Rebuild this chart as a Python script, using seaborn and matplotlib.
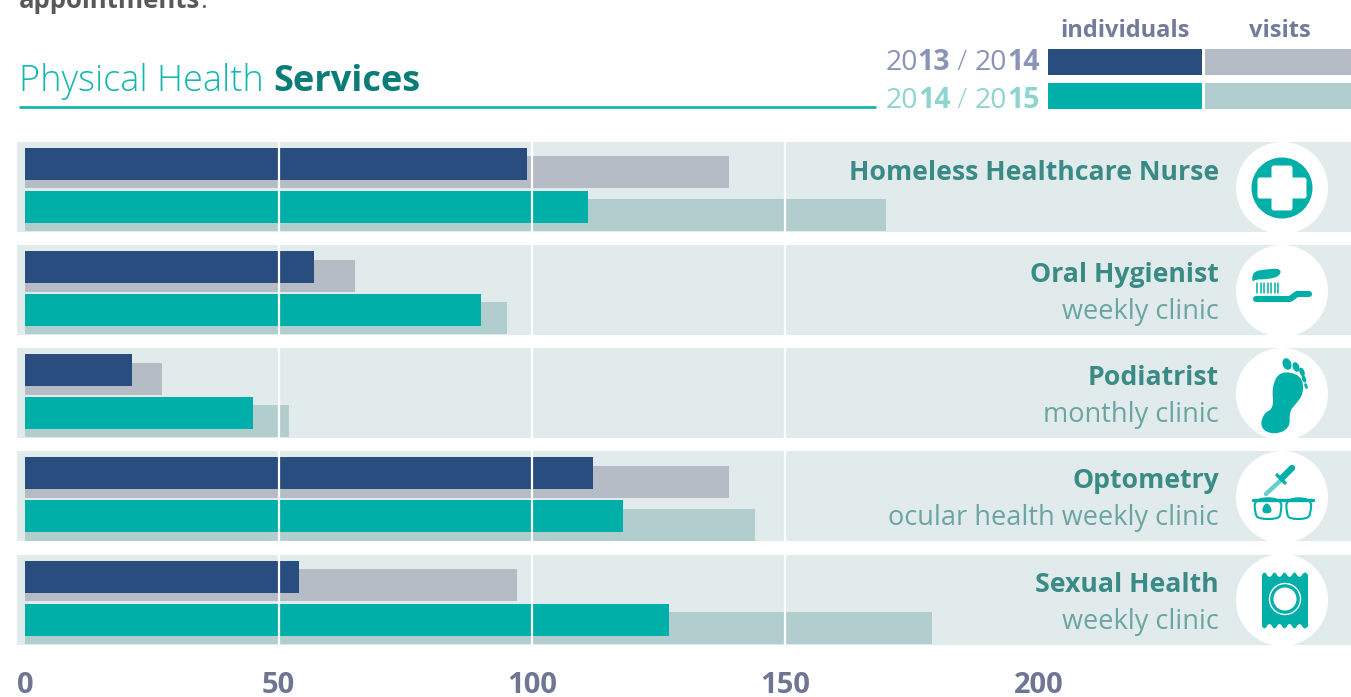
import numpy as np
import matplotlib
matplotlib.use("Agg")
import matplotlib.pyplot as plt
from matplotlib.patches import Circle, Ellipse, FancyBboxPatch, PathPatch, Rectangle
from matplotlib.path import Path
import seaborn as sns

# values
services = ["Homeless Healthcare Nurse", "Oral Hygienist", "Podiatrist", "Optometry", "Sexual Health"]
clinics = ["", "weekly clinic", "monthly clinic", "ocular health weekly clinic", "weekly clinic"]
individuals_1314 = [99, 57, 21, 112, 54]
visits_1314 = [139, 65, 27, 139, 97]
individuals_1415 = [111, 90, 45, 118, 127]
visits_1415 = [170, 95, 52, 144, 179]
x_ticks = [0, 50, 100, 150, 200]
grid_lines = [50, 100, 150]

NAVY = "#2a4d80"
GREY = "#b5bcc5"
TEAL = "#00b0a8"
PALE = "#b1cdcd"
PANEL = "#e2ebec"
FONT = "Open Sans"

sns.set_theme(style="white")
plt.rcParams["font.family"] = [FONT, "DejaVu Sans"]

W, H = 1351, 697
fig = plt.figure(figsize=(W / 100, H / 100), dpi=100, facecolor="white")

# chart axes sit over the panel block, 5.065 px per unit, 103.15 px per row
PX = 5.065
ROW = 103.15
ax = fig.add_axes([17 / W, 1 - 645 / H, (W - 17) / W, (645 - 142) / H])
rows = np.arange(len(services))
bar_h = 32 / ROW

for r in rows:
    ax.axhspan(r - 0.436, r + 0.436, color=PANEL, lw=0, zorder=0)

for vals, off, col, z in [
    (visits_1314, -0.141, GREY, 1),
    (visits_1415, 0.272, PALE, 1),
    (individuals_1314, -0.223, NAVY, 2),
    (individuals_1415, 0.194, TEAL, 2),
]:
    sns.barplot(x=vals, y=rows + off, orient="y", native_scale=True, width=bar_h,
                color=col, saturation=1, errorbar=None, linewidth=0, zorder=z, ax=ax)

for g in grid_lines:
    ax.axvline(g, color="white", lw=1.6, zorder=3)

ax.set_xlim(-8.4 / PX, (W - 25.4) / PX)
ax.set_ylim((645 - 187) / ROW, -45 / ROW)
ax.set_xticks(x_ticks)
ax.set_xticklabels([str(t) for t in x_ticks], fontsize=21, fontweight="bold", color="#6e7693")
ax.set_yticks([])
ax.set_xlabel("")
ax.set_ylabel("")
ax.tick_params(axis="x", length=0, pad=18.5)
ax.patch.set_alpha(0)
sns.despine(ax=ax, left=True, bottom=True)

# overlay in pixel coordinates for heading, key and icons
ov = fig.add_axes([0, 0, 1, 1], facecolor="none")
ov.set_xlim(0, W)
ov.set_ylim(H, 0)
ov.axis("off")

renderer = fig.canvas.get_renderer()


def runs(x, y, parts, size, ha="left"):
    # text pieces with mixed weight and colour on one baseline
    items = [ov.text(x, y, s, fontsize=size, fontweight=w, color=c, va="baseline") for s, w, c in parts]
    widths = [t.get_window_extent(renderer).width for t in items]
    cur = x - sum(widths) if ha == "right" else x
    for t, wd in zip(items, widths):
        t.set_x(cur)
        cur += wd


def blob(points, ox, oy, face=TEAL, edge="none", lw=0, zorder=3):
    # closed smooth shape through midpoints of sketch points given in 3x zoom coordinates
    pts = [(ox + a / 3, oy + b / 3) for a, b in points]
    mids = [((p[0] + q[0]) / 2, (p[1] + q[1]) / 2) for p, q in zip(pts, pts[1:] + pts[:1])]
    verts = [mids[-1]]
    codes = [Path.MOVETO]
    for p, m in zip(pts, mids):
        verts += [p, m]
        codes += [Path.CURVE3, Path.CURVE3]
    return PathPatch(Path(verts, codes), facecolor=face, edgecolor=edge, lw=lw, zorder=zorder)


runs(19, 8, [("appointments", "bold", "#58595b"), (".", "normal", "#58595b")], 18.5)
runs(19, 91, [("Physical Health ", "light", "#14b8b0"), ("Services", "bold", "#0a7d78")], 26)
ov.plot([19, 876], [107, 107], color="#0bb3ab", lw=1.9, solid_capstyle="butt")

ov.text(1125, 37, "individuals", fontsize=17, fontweight="bold", color="#727b99", ha="center")
ov.text(1280, 37, "visits", fontsize=17, fontweight="bold", color="#727b99", ha="center")
c1 = "#8a93b8"
c2 = "#8dd5ce"
runs(1040, 70, [("20", "normal", c1), ("13", "bold", c1), (" / ", "light", c1), ("20", "normal", c1), ("14", "bold", c1)], 20.5, "right")
runs(1040, 108, [("20", "normal", c2), ("14", "bold", c2), (" / ", "light", c2), ("20", "normal", c2), ("15", "bold", c2)], 20.5, "right")
for x0, x1, y0, col in [(1048, 1202, 49, NAVY), (1205, 1351, 49, GREY), (1048, 1202, 83, TEAL), (1205, 1351, 83, PALE)]:
    ov.add_patch(Rectangle((x0, y0), x1 - x0, 26, color=col, lw=0))

for i, (name, clinic) in enumerate(zip(services, clinics)):
    y = 142 + ROW * i
    ov.text(1219, y + 38 if i == 0 else y + 37, name, fontsize=19.2, fontweight="bold", color="#3a8a86", ha="right")
    if clinic:
        ov.text(1219, y + 74, clinic, fontsize=19.5, color="#6aa5a3", ha="right")
    ov.add_patch(Circle((1282, 188 + 103 * i), 46, color="white", lw=0, zorder=2))

# cross
ov.add_patch(Circle((1282, 188), 30.5, color=TEAL, lw=0, zorder=3))
ov.add_patch(FancyBboxPatch((1274, 168), 16, 40, boxstyle="round,pad=2.5", color="white", lw=0, zorder=4))
ov.add_patch(FancyBboxPatch((1260, 180), 44, 16, boxstyle="round,pad=2.5", color="white", lw=0, zorder=4))

# toothbrush
ov.plot([1256, 1290, 1297, 1309], [299, 299, 294, 294], color=TEAL, lw=4.4, solid_capstyle="round",
        solid_joinstyle="round", zorder=3)
for bx in [1257, 1260.5, 1264, 1267.5, 1271, 1274.5, 1278]:
    ov.plot([bx, bx], [283, 293], color=TEAL, lw=1.1, zorder=3)
ov.add_patch(blob([(156, 128), (158, 95), (195, 88), (243, 85), (240, 108), (205, 118), (165, 118)], 1200, 240))

# foot
ov.add_patch(blob([(240, 392), (305, 405), (312, 460), (285, 495), (268, 515), (270, 565), (222, 585), (180, 565),
                   (190, 520), (222, 505), (215, 440)], 1200, 240))
for ex, ey, ew, eh in [(1287, 364, 8.5, 12), (1296, 367, 6.5, 10), (1302, 372, 5, 9), (1304, 379, 4, 7.5), (1306, 386, 3, 6)]:
    ov.add_patch(Ellipse((ex, ey), ew, eh, angle=-20, color=TEAL, lw=0, zorder=3))

# dropper and glasses
ov.plot([1292, 1282], [468, 478], color=TEAL, lw=4.6, solid_capstyle="round", zorder=3)
ov.plot([1277, 1285], [475, 483], color=TEAL, lw=2.4, zorder=3)
ov.plot([1280, 1266], [481, 494], color=TEAL, lw=3.2, solid_capstyle="round", alpha=0.6, zorder=3)
ov.add_patch(blob([(163, 160), (245, 160), (243, 205), (235, 222), (175, 222), (165, 205)], 1200, 445,
                  face="white", edge=TEAL, lw=1.5))
ov.add_patch(blob([(258, 160), (335, 160), (332, 205), (322, 222), (268, 222), (260, 205)], 1200, 445,
                  face="white", edge=TEAL, lw=1.5))
ov.plot([1253, 1313], [499.5, 499.5], color=TEAL, lw=2.4, zorder=4)
ov.add_patch(blob([(200, 165), (180, 205), (222, 205)], 1200, 445, zorder=4))

# condom wrapper
top = [1262, 1267, 1272, 1277, 1282, 1287, 1292, 1297, 1302, 1308]
verts = [(1262, 575)]
codes = [Path.MOVETO]
for k in range(len(top) - 1):
    verts += [((top[k] + top[k + 1]) / 2, 570 if k % 2 == 0 else 579), (top[k + 1], 575)]
    codes += [Path.CURVE3, Path.CURVE3]
verts.append((1308, 626))
codes.append(Path.LINETO)
rev = top[::-1]
for k in range(len(rev) - 1):
    verts += [((rev[k] + rev[k + 1]) / 2, 631 if k % 2 == 0 else 622), (rev[k + 1], 626)]
    codes += [Path.CURVE3, Path.CURVE3]
verts.append((1262, 575))
codes.append(Path.CLOSEPOLY)
ov.add_patch(PathPatch(Path(verts, codes), color=TEAL, lw=0, zorder=3))
ov.add_patch(Circle((1285, 599), 15.5, facecolor="none", edgecolor="white", lw=1, zorder=4))
ov.add_patch(Circle((1285, 599), 11.5, color="white", lw=0, zorder=4))

fig.savefig("out.png", dpi=100)
